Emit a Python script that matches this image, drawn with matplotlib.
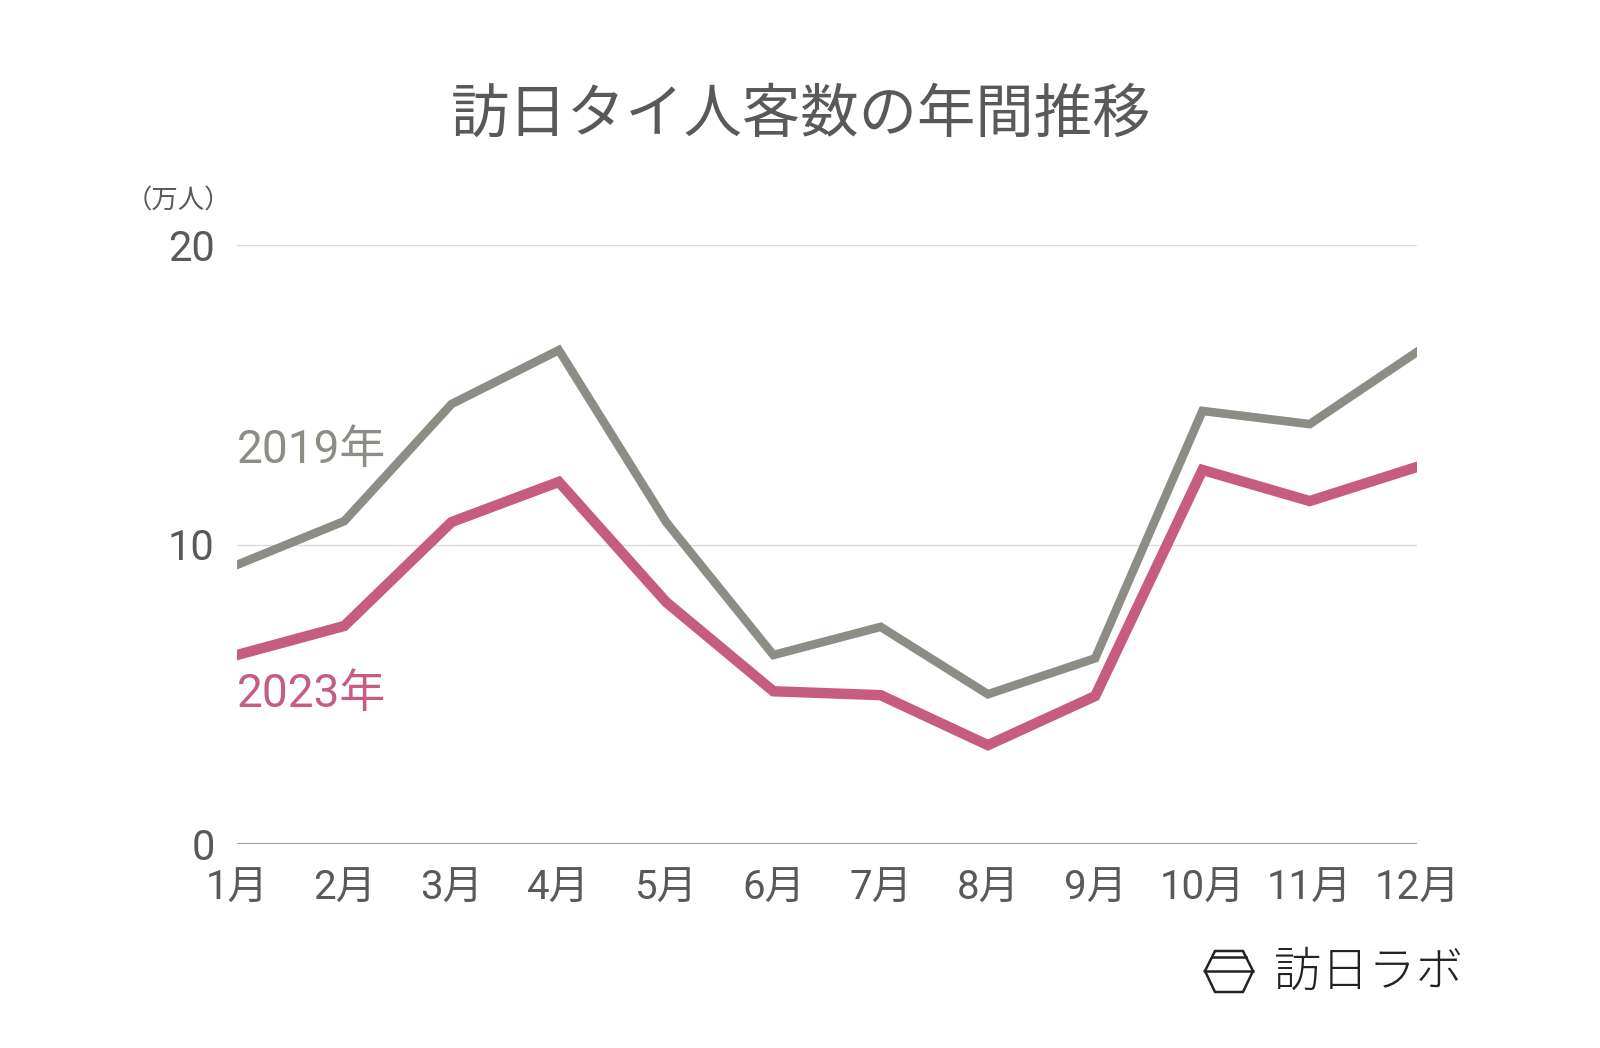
import matplotlib
matplotlib.use("Agg")
import matplotlib.pyplot as plt
from matplotlib.lines import Line2D

plt.rcParams['font.family'] = ['Roboto', 'Noto Sans CJK JP', 'DejaVu Sans']

months = ["1月", "2月", "3月", "4月", "5月", "6月", "7月", "8月", "9月", "10月", "11月", "12月"]
visitors_2019 = [9.32, 10.78, 14.69, 16.49, 10.75, 6.31, 7.25, 5.0, 6.2, 14.46, 14.02, 16.43]
visitors_2023 = [6.31, 7.28, 10.75, 12.09, 8.08, 5.1, 4.97, 3.3, 4.94, 12.49, 11.45, 12.59]
yticks = [0, 10, 20]

W, H = 1600, 1048
text_color = "#595959"
gray = "#8e8d85"
pink = "#c65c82"

fig = plt.figure(figsize=(W / 100, H / 100), dpi=100)
ax = fig.add_axes([237 / W, 1 - 844 / H, (1417 - 237) / W, (844 - 245) / H])

x = list(range(1, 13))
ax.plot(x, visitors_2019, color=gray, lw=6.2, solid_joinstyle="miter", zorder=3)
ax.plot(x, visitors_2023, color=pink, lw=7.5, solid_joinstyle="miter", zorder=4)

ax.set_xlim(1, 12)
ax.set_ylim(0, 20)
ax.set_yticks(yticks)
ax.set_yticklabels([str(v) for v in yticks], fontsize=30, color=text_color)
ax.set_xticks(x)
ax.set_xticklabels(months, fontsize=29, color=text_color)
ax.tick_params(axis="both", length=0)
ax.tick_params(axis="y", pad=16)
ax.tick_params(axis="x", pad=18)
for v in yticks[1:]:
    ax.axhline(v, color="#dcdcdc", lw=1, zorder=1)
ax.axhline(0, color="#a0a0a0", lw=1.5, zorder=2)
for s in ax.spines.values():
    s.set_visible(False)
ax.set_facecolor("white")

# series labels
ax.text(1, 13.15, "2019年", fontsize=33, color=gray, ha="left", va="center")
ax.text(1, 5.0, "2023年", fontsize=33, color=pink, ha="left", va="center")

fig.text(801 / W, 1 - 116 / H, "訪日タイ人客数の年間推移", fontsize=42,
         color=text_color, ha="center", va="center")
fig.text(178 / W, 1 - 201 / H, "（万人）", fontsize=19, color=text_color,
         ha="center", va="center")

# logo
def px(xp, yp):
    return xp / W, 1 - yp / H

hx = [1205, 1215, 1243, 1253, 1243, 1215, 1205]
hy = [971, 951, 951, 971, 992, 992, 971]
fig.lines.append(Line2D([a / W for a in hx], [1 - b / H for b in hy],
                        transform=fig.transFigure, color="#222222", lw=1.8))
for y0, x0, x1 in [(957, 1212, 1246), (971, 1205, 1253)]:
    fig.lines.append(Line2D([x0 / W, x1 / W], [1 - y0 / H, 1 - y0 / H],
                            transform=fig.transFigure, color="#222222", lw=1.8))
fig.text(*px(1368, 972), "訪日ラボ", fontsize=34, color="#222222",
         ha="center", va="center", fontweight="light",
         family=['Noto Sans CJK JP', 'DejaVu Sans'])

fig.savefig("out.png", dpi=100, facecolor="white")
plt.close(fig)
